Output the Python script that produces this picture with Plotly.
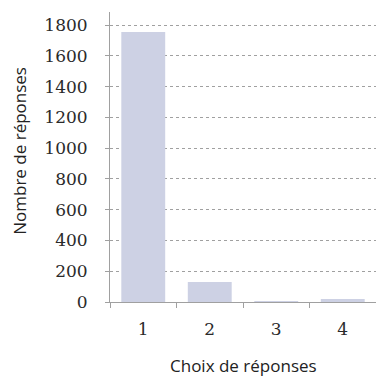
import plotly.graph_objects as go

# Réponses par choix
choix = ["1", "2", "3", "4"]
nombre = [1755, 130, 4, 20]
y_ticks = [0, 200, 400, 600, 800, 1000, 1200, 1400, 1600, 1800]

bar_color = "#cdd1e4"
grid_color = "#a0a0a0"

fig = go.Figure(
    go.Bar(
        x=choix,
        y=nombre,
        marker=dict(color=bar_color, line=dict(width=0)),
        width=0.66,
    )
)

fig.update_layout(
    width=376,
    height=379,
    margin=dict(l=110, r=0, t=12, b=77),
    paper_bgcolor="white",
    plot_bgcolor="white",
    showlegend=False,
)

fig.update_xaxes(
    type="category",
    showgrid=False,
    showline=True,
    linecolor=grid_color,
    linewidth=1,
    tickson="boundaries",
    ticks="outside",
    ticklen=5,
    tickcolor=grid_color,
    tickfont=dict(family="DejaVu Serif", size=17, color="#2a2a2a"),
    ticklabelstandoff=12,
)

fig.update_yaxes(
    range=[0, 1885],
    tickvals=y_ticks,
    showgrid=True,
    gridcolor=grid_color,
    griddash="dot",
    gridwidth=1,
    showline=True,
    linecolor=grid_color,
    linewidth=1,
    ticks="outside",
    ticklen=4,
    tickcolor=grid_color,
    tickfont=dict(family="DejaVu Serif", size=17, color="#2a2a2a"),
    ticklabelstandoff=14,
    zeroline=False,
)

fig.add_annotation(
    text="Choix de réponses",
    xref="paper", yref="paper",
    x=0.5, y=-0.22,
    xanchor="center", yanchor="middle",
    showarrow=False,
    font=dict(family="Open Sans", size=17, color="#222"),
)
fig.add_annotation(
    text="Nombre de réponses",
    xref="paper", yref="paper",
    x=-0.34, y=0.52,
    xanchor="center", yanchor="middle",
    textangle=-90,
    showarrow=False,
    font=dict(family="Open Sans", size=17, color="#222"),
)

fig.write_html("out.html")
